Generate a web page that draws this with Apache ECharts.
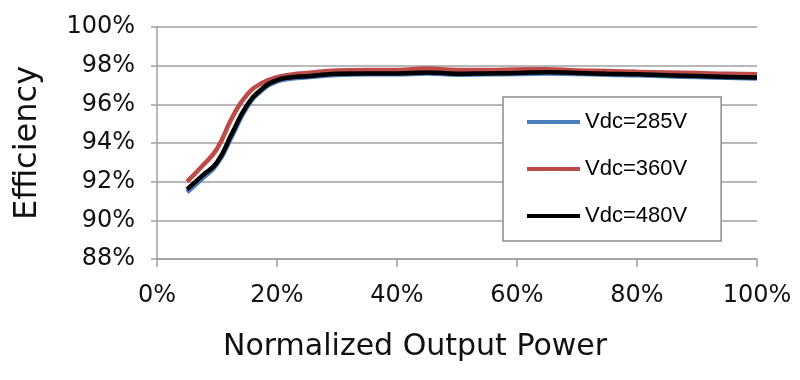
<!DOCTYPE html>
<html>
<head>
<meta charset="utf-8">
<script src="https://cdn.jsdelivr.net/npm/echarts@6/dist/echarts.min.js"></script>
<style>html,body{margin:0;padding:0;background:#fff}#c{width:800px;height:380px}</style>
</head>
<body>
<div id="c"></div>
<script>
var power = [5, 7.5, 10, 12.5, 15, 17.5, 20, 22.5, 25, 30, 35, 40, 45, 50, 55, 60, 65, 70, 75, 80, 85, 90, 95, 100];
var vdc285 = [91.45, 92.15, 92.9, 94.35, 95.85, 96.72, 97.18, 97.33, 97.4, 97.52, 97.55, 97.55, 97.6, 97.53, 97.55, 97.57, 97.6, 97.57, 97.53, 97.5, 97.45, 97.41, 97.37, 97.33];
var vdc360 = [92.0, 92.8, 93.7, 95.3, 96.5, 97.1, 97.4, 97.55, 97.62, 97.75, 97.78, 97.78, 97.85, 97.78, 97.78, 97.8, 97.82, 97.75, 97.72, 97.68, 97.65, 97.62, 97.58, 97.56];
var vdc480 = [91.6, 92.3, 93.0, 94.5, 95.95, 96.8, 97.25, 97.4, 97.45, 97.58, 97.6, 97.6, 97.65, 97.58, 97.6, 97.62, 97.66, 97.62, 97.58, 97.55, 97.5, 97.46, 97.42, 97.39];
var seriesNames = ['Vdc=285V', 'Vdc=360V', 'Vdc=480V'];
var xAxisName = 'Normalized Output Power';
var yAxisName = 'Efficiency';

function pairs(ys) { return power.map(function (x, i) { return [x, ys[i]]; }); }

var chart = echarts.init(document.getElementById('c'));
var font = 'DejaVu Sans';
chart.setOption({
  animation: false,
  backgroundColor: '#fff',
  grid: { left: 157, right: 43, top: 27, bottom: 121, containLabel: false },
  legend: {
    orient: 'vertical',
    left: 503, top: 97,
    padding: [14, 34, 14, 24],
    itemGap: 25,
    itemWidth: 53, itemHeight: 4,
    icon: 'rect',
    backgroundColor: '#fff',
    borderColor: '#8c8c8c', borderWidth: 1.5,
    textStyle: { fontFamily: 'Liberation Sans', fontSize: 22, color: '#000' },
    data: seriesNames
  },
  xAxis: {
    type: 'value', min: 0, max: 100, interval: 20,
    axisLine: { show: true, lineStyle: { color: '#a0a0a0', width: 1.5 } },
    axisTick: { show: true, length: 8, lineStyle: { color: '#a0a0a0', width: 1.5 } },
    splitLine: { show: false },
    axisLabel: { margin: 25, fontFamily: font, fontSize: 24, color: '#111', formatter: '{value}%' }
  },
  yAxis: {
    type: 'value', min: 88, max: 100, interval: 2,
    name: yAxisName, nameLocation: 'middle', nameRotate: 90, nameGap: 113,
    nameTextStyle: { fontFamily: font, fontSize: 32, color: '#111' },
    axisLine: { show: true, lineStyle: { color: '#a0a0a0', width: 1.5 } },
    axisTick: { show: true, length: 6, lineStyle: { color: '#a0a0a0', width: 1.5 } },
    splitLine: { show: true, lineStyle: { color: '#a0a0a0', width: 1.5 } },
    axisLabel: { margin: 22, fontFamily: font, fontSize: 24, color: '#111', formatter: '{value}%' }
  },
  graphic: [{
    type: 'text', left: 223, top: 332,
    style: { text: xAxisName, fontFamily: font, fontSize: 30, fill: '#111' }
  }],
  series: [
    { name: seriesNames[0], type: 'line', smooth: true, showSymbol: false, data: pairs(vdc285), color: '#4a7ebb', lineStyle: { width: 4.5 } },
    { name: seriesNames[1], type: 'line', smooth: true, showSymbol: false, data: pairs(vdc360), color: '#be4b48', lineStyle: { width: 4.5 } },
    { name: seriesNames[2], type: 'line', smooth: true, showSymbol: false, data: pairs(vdc480), color: '#000000', lineStyle: { width: 4.5 } }
  ]
});
</script>
</body>
</html>
